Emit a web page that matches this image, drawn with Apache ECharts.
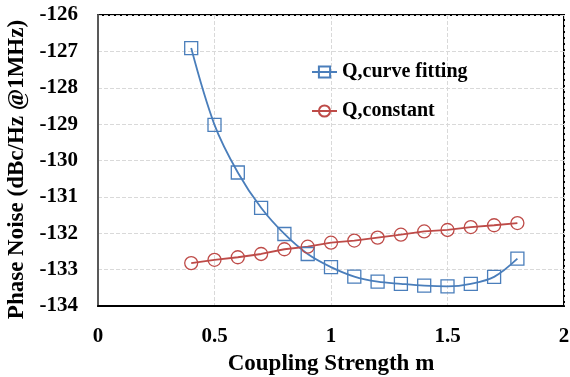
<!DOCTYPE html>
<html><head><meta charset="utf-8">
<script src="https://cdn.jsdelivr.net/npm/echarts@6/dist/echarts.min.js"></script>
<style>html,body{margin:0;padding:0;background:#fff}#c{width:570px;height:377px}</style>
</head><body><div id="c"></div>
<script>
var couplingM = [0.4, 0.5, 0.6, 0.7, 0.8, 0.9, 1.0, 1.1, 1.2, 1.3, 1.4, 1.5, 1.6, 1.7, 1.8];
var qCurveFitting = [-126.91, -129.02, -130.33, -131.30, -132.02, -132.57, -132.93, -133.19, -133.33, -133.39, -133.44, -133.46, -133.39, -133.20, -132.70];
var qConstant = [-132.82, -132.73, -132.66, -132.57, -132.44, -132.37, -132.26, -132.20, -132.12, -132.04, -131.95, -131.91, -131.83, -131.78, -131.72];
var seriesNames = ['Q,curve fitting', 'Q,constant'];
var xTitle = 'Coupling Strength m';
var yTitle = 'Phase Noise (dBc/Hz @1MHz)';

function pairs(xs, ys){ return xs.map(function(x,i){return [x, ys[i]];}); }
var font = 'Liberation Serif';
var chart = echarts.init(document.getElementById('c'));
chart.setOption({
  animation: false,
  grid: {left: 98, right: 6, top: 15, bottom: 71, show: true, borderColor: '#000', borderWidth: 2,
         containLabel: false, outerBoundsMode: 'none'},
  legend: {
    orient: 'vertical', left: 306, top: 57, itemWidth: 25, itemHeight: 14, itemGap: 19,
    textStyle: {fontFamily: font, fontWeight: 'bold', fontSize: 20, color: '#000'},
    data: seriesNames
  },
  xAxis: {
    type: 'value', min: 0, max: 2, interval: 0.5,
    name: xTitle, nameLocation: 'middle', nameGap: 47,
    nameTextStyle: {fontFamily: font, fontWeight: 'bold', fontSize: 23, color: '#000'},
    axisLine: {show: true, lineStyle: {color: '#000', width: 2}},
    axisTick: {show: false},
    axisLabel: {fontFamily: font, fontWeight: 'bold', fontSize: 21, color: '#000', margin: 20},
    splitLine: {show: true, lineStyle: {color: '#d9d9d9', type: 'dashed', width: 1}}
  },
  yAxis: {
    type: 'value', min: -134, max: -126, interval: 1,
    name: yTitle, nameLocation: 'middle', nameGap: 62, nameRotate: 90,
    nameTextStyle: {fontFamily: font, fontWeight: 'bold', fontSize: 23, color: '#000', padding: [0, 18, 0, 0]},
    axisLine: {show: true, lineStyle: {color: '#595959', width: 2}},
    axisTick: {show: false},
    axisLabel: {fontFamily: font, fontWeight: 'bold', fontSize: 21, color: '#000', margin: 20},
    splitLine: {show: true, lineStyle: {color: '#d9d9d9', type: 'dashed', width: 1}}
  },
  series: [
    {
      name: seriesNames[0], type: 'line', smooth: 0.35,
      data: pairs(couplingM, qCurveFitting),
      symbol: 'rect', symbolSize: 13,
      lineStyle: {color: '#4a7ebb', width: 1.8},
      itemStyle: {color: 'rgba(0,0,0,0)', borderColor: '#4a7ebb', borderWidth: 1.3}
    },
    {
      name: seriesNames[1], type: 'line', smooth: false,
      data: pairs(couplingM, qConstant),
      symbol: 'circle', symbolSize: 13,
      lineStyle: {color: '#be4b48', width: 1.8},
      itemStyle: {color: 'rgba(0,0,0,0)', borderColor: '#be4b48', borderWidth: 1.3}
    }
  ]
});
</script></body></html>
